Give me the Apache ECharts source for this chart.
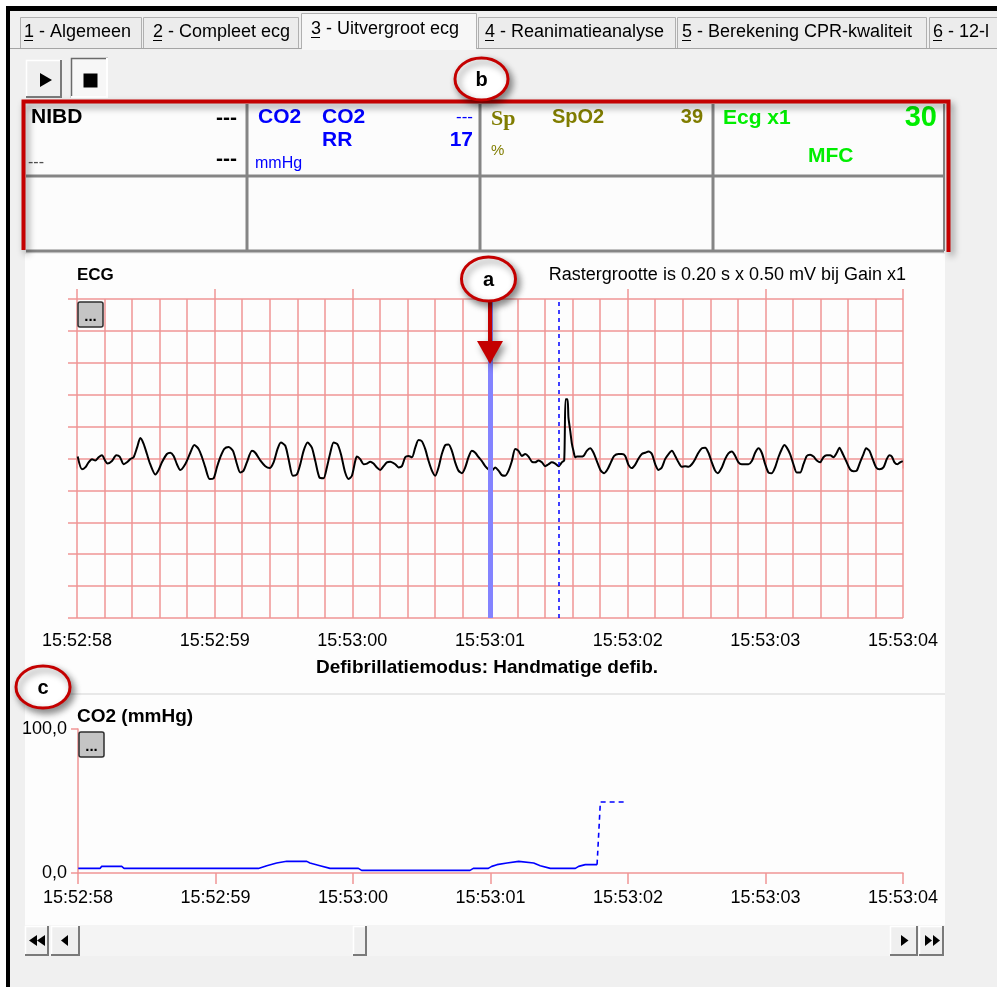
<!DOCTYPE html>
<html><head><meta charset="utf-8">
<script src="https://cdn.jsdelivr.net/npm/echarts@6/dist/echarts.min.js"></script>
<style>html,body{margin:0;padding:0;background:#fff;overflow:hidden}#chart{width:997px;height:987px}</style>
</head><body><div id="chart"></div>
<script>
// ---------------- DATA ----------------
const tickLabels = ['15:52:58','15:52:59','15:53:00','15:53:01','15:53:02','15:53:03','15:53:04'];
const co2AxisLabels = ['0,0','100,0'];
const tabLabels = ['1 - Algemeen','2 - Compleet ecg','3 - Uitvergroot ecg','4 - Reanimatieanalyse','5 - Berekening CPR-kwaliteit','6 - 12-l'];
// ECG: seconds after 15:52:58, value in mV (grid 0.20 s x 0.50 mV)
const ecgTimes = [0.005,0.036,0.060,0.084,0.109,0.133,0.157,0.181,0.206,0.222,0.254,0.285,0.310,0.339,0.363,0.387,0.411,0.436,0.460,0.484,0.508,0.532,0.569,0.593,0.617,0.653,0.678,0.702,0.726,0.750,0.786,0.823,0.852,0.883,0.908,0.932,0.963,0.992,1.016,1.041,1.070,1.101,1.133,1.162,1.186,1.210,1.234,1.271,1.295,1.331,1.368,1.399,1.428,1.457,1.481,1.513,1.537,1.568,1.597,1.622,1.646,1.675,1.706,1.731,1.762,1.791,1.815,1.840,1.864,1.893,1.917,1.948,1.973,1.997,2.021,2.033,2.057,2.082,2.106,2.130,2.154,2.178,2.203,2.227,2.251,2.275,2.312,2.336,2.360,2.384,2.408,2.433,2.457,2.481,2.505,2.529,2.554,2.578,2.602,2.626,2.650,2.675,2.699,2.723,2.747,2.771,2.796,2.820,2.844,2.868,2.893,2.917,2.941,2.965,2.989,3.014,3.038,3.062,3.086,3.110,3.135,3.159,3.183,3.207,3.231,3.256,3.280,3.304,3.328,3.352,3.377,3.401,3.425,3.449,3.474,3.498,3.522,3.539,3.549,3.563,3.570,3.583,3.595,3.606,3.619,3.631,3.655,3.679,3.703,3.728,3.752,3.776,3.805,3.829,3.854,3.878,3.902,3.933,3.958,3.982,4.006,4.030,4.054,4.079,4.103,4.127,4.151,4.176,4.200,4.224,4.248,4.272,4.297,4.321,4.345,4.369,4.393,4.418,4.442,4.466,4.490,4.514,4.539,4.563,4.587,4.611,4.635,4.655,4.684,4.708,4.732,4.757,4.781,4.805,4.829,4.853,4.877,4.902,4.926,4.950,4.974,4.999,5.023,5.047,5.071,5.095,5.120,5.139,5.156,5.180,5.204,5.228,5.253,5.277,5.301,5.325,5.350,5.374,5.398,5.422,5.446,5.471,5.495,5.519,5.538,5.563,5.587,5.616,5.640,5.664,5.688,5.713,5.732,5.756,5.780,5.805,5.829,5.858,5.882,5.902,5.919,5.938,5.960,5.979,5.998];
const ecgValues = [0.03,-0.17,-0.14,-0.06,-0.01,-0.03,0.02,0.05,-0.04,-0.08,-0.04,0.05,0.03,-0.09,-0.06,-0.01,0.02,0.17,0.32,0.23,0.07,-0.09,-0.25,-0.18,-0.06,0.07,0.09,0.04,-0.09,-0.18,-0.09,0.09,0.21,0.15,0.02,-0.14,-0.32,-0.31,-0.14,0.02,0.15,0.18,0.12,-0.09,-0.22,-0.19,-0.06,0.12,0.09,-0.03,-0.12,-0.15,-0.06,0.15,0.25,0.20,-0.01,-0.27,-0.25,-0.09,0.12,0.25,0.17,-0.04,-0.30,-0.31,-0.14,0.09,0.25,0.22,0.07,-0.22,-0.32,-0.27,-0.04,0.03,-0.01,-0.09,-0.08,-0.05,-0.08,-0.14,-0.18,-0.12,-0.06,-0.05,-0.09,-0.14,-0.12,0.02,0.04,0.02,0.17,0.29,0.27,0.15,-0.04,-0.19,-0.27,-0.14,0.07,0.21,0.22,0.12,-0.06,-0.19,-0.23,-0.14,0.02,0.12,0.09,0.02,-0.04,-0.12,-0.17,-0.19,-0.14,-0.19,-0.26,-0.27,-0.19,-0.04,0.15,0.12,0.04,0.07,0.03,-0.05,-0.06,-0.03,-0.06,-0.12,-0.09,-0.06,-0.08,-0.12,-0.06,-0.03,0.93,0.93,0.64,0.43,0.23,0.12,0.02,0.03,0.03,0.04,0.12,0.16,0.09,-0.04,-0.19,-0.23,-0.17,-0.06,0.04,0.07,0.07,0.04,-0.10,-0.15,-0.10,0.00,0.07,0.09,0.11,0.07,-0.09,-0.18,-0.14,-0.01,0.07,0.12,0.04,-0.06,-0.13,-0.12,-0.13,-0.09,-0.01,0.09,0.16,0.17,0.09,-0.06,-0.19,-0.23,-0.14,-0.01,0.08,0.11,0.04,-0.06,-0.09,-0.09,-0.09,-0.04,0.09,0.16,0.09,-0.09,-0.22,-0.23,-0.14,0.02,0.15,0.21,0.17,0.07,-0.09,-0.22,-0.22,-0.09,0.04,0.06,0.03,-0.03,-0.06,0.02,0.05,0.05,0.02,0.09,0.17,0.07,-0.04,-0.17,-0.20,-0.19,-0.06,0.07,0.16,0.12,-0.01,-0.14,-0.17,-0.14,-0.01,0.05,0.03,-0.06,-0.09,-0.06,-0.04];
// CO2 (mmHg): seconds after 15:52:58
const co2Times  = [0.002,0.160,0.172,0.318,0.335,1.312,1.373,1.445,1.518,1.664,1.687,1.760,1.833,2.039,2.063,2.851,2.875,2.984,3.009,3.047,3.120,3.205,3.314,3.362,3.435,3.617,3.641,3.689,3.775];
const co2Values = [3.2,3.2,4.6,4.6,3.2,3.2,5.1,6.9,8.1,8.1,6.9,5.1,3.2,3.2,1.8,1.8,3.2,3.2,4.6,5.8,6.9,8.1,6.9,5.1,3.2,3.2,4.6,5.8,5.8];
const co2PendingTimes  = [3.775,3.799,3.969];
const co2PendingValues = [5.8,49.3,49.3];
const cursorTime = 3.0;   // 15:53:01
const markerTime = 3.5;   // 15:53:01.5

// ---------------- STYLE ----------------
const FONT = '"Liberation Sans", Arial, sans-serif';
const RED = '#ef9595';
const G = [];
function rect(x,y,w,h,st,z,r){G.push({type:'rect',silent:true,z:z==null?1:z,shape:{x,y,width:w,height:h,r:r||0},style:Object.assign({fill:'none'},st)});}
function ln(x1,y1,x2,y2,stroke,lw,z,extra){G.push({type:'line',silent:true,z:z==null?2:z,shape:{x1,y1,x2,y2},style:Object.assign({stroke,lineWidth:lw||1},extra||{})});}
function poly(points,st,z,closed){G.push({type:closed?'polygon':'polyline',silent:true,z:z==null?2:z,shape:{points},style:st});}
function T(x,y,s,o){o=o||{};const al=o.align||'left';G.push({type:'text',silent:true,z:o.z==null?10:o.z,x,y,style:{text:s,fill:o.color||'#000',font:(o.bold?'bold ':'')+(o.size||18)+'px '+(o.family||FONT),textAlign:al,textVerticalAlign:'middle',align:al,verticalAlign:'middle'}});}
function bevel(x,y,w,h,pressed,z){
  rect(x,y,w,h,{fill:pressed?'#f7f7f7':'#efefef'},z);
  const lt=pressed?'#6a6a6a':'#ffffff', rb=pressed?'#ffffff':'#7a7a7a';
  poly([[x+0.5,y+h],[x+0.5,y+0.5],[x+w,y+0.5]],{stroke:lt,lineWidth:1.5,fill:'none'},z);
  poly([[x+w-1,y],[x+w-1,y+h-1],[x,y+h-1]],{stroke:rb,lineWidth:2,fill:'none'},z);
}

// window frame
rect(0,0,997,6,{fill:'#ffffff'},-20);
rect(0,0,6,987,{fill:'#ffffff'},-20);
rect(6,6,991,5,{fill:'#000000'},-19);
rect(6,6,4,981,{fill:'#000000'},-19);

// tabs
const tabs=[[20,142],[143,299],[301,477],[478,676],[677,927],[929,1000]];
const tabTextX=[24,153,311,485,682,933];
ln(10,48.5,301,48.5,'#a4a4a4',1,1);
ln(477,48.5,997,48.5,'#a4a4a4',1,1);
tabs.forEach((t,i)=>{
  const active=i===2;
  const y=active?13:17, h=active?36:31;
  rect(t[0],y,t[1]-t[0],h,{fill:active?'#f7f7f7':'#ececec'},1);
  poly([[t[0]+0.5,y+h],[t[0]+0.5,y+0.5],[t[1]-0.5,y+0.5],[t[1]-0.5,y+h]],{stroke:'#b0b0b0',lineWidth:1,fill:'none'},2);
  const cy=active?29:32;
  T(tabTextX[i],cy,tabLabels[i],{size:18});
  ln(tabTextX[i],cy+8.5,tabTextX[i]+9,cy+8.5,'#000',1,11);
});
rect(302,47,174,3,{fill:'#f7f7f7'},3);

// play / stop buttons
bevel(26,60,36,38,false,2);
poly([[40,73],[40,87],[52,80]],{fill:'#000'},4,true);
bevel(71,58,37,40,true,2);
rect(83.5,73.5,14,14,{fill:'#000'},4);

// vital-sign panel
rect(26,104,918,147,{fill:'#fcfcfc'},1);
const PG='#858585';
[247,480,713].forEach(x=>ln(x,104,x,251,PG,3,3));
ln(26,176,944,176,PG,3,3);
ln(26,251,944,251,PG,3,3);
ln(944,104,944,251,PG,2,3);
T(31,117,'NIBD',{bold:true,size:21});
T(237,118,'---',{bold:true,size:21,align:'right'});
T(237,159,'---',{bold:true,size:21,align:'right'});
T(28,163,'---',{size:16,color:'#505050'});
const BL='#0000ff';
T(258,117,'CO2',{bold:true,size:21,color:BL});
T(322,117,'CO2',{bold:true,size:21,color:BL});
T(473,117,'---',{size:17,color:BL,align:'right'});
T(322,140,'RR',{bold:true,size:21,color:BL});
T(473,140,'17',{bold:true,size:21,color:BL,align:'right'});
T(255,164,'mmHg',{size:16,color:BL});
const OL='#807d00';
T(491,119,'Sp',{bold:true,size:22,color:OL,family:'"Liberation Serif", serif'});
T(552,117,'SpO2',{bold:true,size:20,color:OL});
T(703,117,'39',{bold:true,size:20,color:OL,align:'right'});
T(491,151,'%',{size:15,color:OL});
const GR='#00ee00';
T(723,118,'Ecg x1',{bold:true,size:21,color:GR});
T(937,118,'30',{bold:true,size:29,color:GR,align:'right'});
T(808,156,'MFC',{bold:true,size:21,color:GR});

// main white area
rect(25,254,920,671,{fill:'#fdfdfd'},-10);
ln(25,694,945,694,'#e8e8e8',2,-9);

// ECG header texts
T(77,275,'ECG',{bold:true,size:17});
T(906,275,'Rastergrootte is 0.20 s x 0.50 mV bij Gain x1',{size:18,align:'right'});
T(487,668,'Defibrillatiemodus: Handmatige defib.',{bold:true,size:19,align:'center'});
T(77,717,'CO2 (mmHg)',{bold:true,size:19});
// "..." buttons
[[78,302],[79,732]].forEach(p=>{
  rect(p[0],p[1],25,25,{fill:'#c4c4c4',stroke:'#2e2e2e',lineWidth:1.5},20,2);
  T(p[0]+12.5,p[1]+15,'...',{bold:true,size:15,align:'center',z:21});
});

// scrollbar
rect(25,925,920,31,{fill:'#f4f4f4'},1);
bevel(25,926,24,30,false,2);
bevel(51,926,29,30,false,2);
bevel(353,926,14,30,false,2);
bevel(890,926,28,30,false,2);
bevel(919,926,25,30,false,2);
poly([[29,940.5],[37,935],[37,946]],{fill:'#000'},4,true);
poly([[37,940.5],[45,935],[45,946]],{fill:'#000'},4,true);
poly([[61,940.5],[68,935],[68,946]],{fill:'#000'},4,true);
poly([[901,935],[901,946],[908.5,940.5]],{fill:'#000'},4,true);
poly([[925,935],[925,946],[932,940.5]],{fill:'#000'},4,true);
poly([[933,935],[933,946],[940,940.5]],{fill:'#000'},4,true);

// annotation callouts
const AR='#c40000';
const SH={shadowBlur:7,shadowColor:'rgba(0,0,0,0.45)',shadowOffsetX:3,shadowOffsetY:4};
poly([[23.5,250],[23.5,101.5],[948.5,101.5],[948.5,252]],Object.assign({stroke:AR,lineWidth:4,fill:'none'},SH),60);
function callout(cx,cy,rx,ry,letter){
  G.push({type:'ellipse',silent:true,z:70,shape:{cx,cy,rx,ry},style:Object.assign({fill:'#ffffff',stroke:AR,lineWidth:3},SH)});
  T(cx,cy+1,letter,{bold:true,size:20,align:'center',z:71});
}
ln(490,300,490,343,AR,4,65,SH);
poly([[477,341],[503,341],[490,364]],Object.assign({fill:AR},SH),65,true);
callout(481.5,79,26.5,21,'b');
callout(488.5,279,27,22,'a');
callout(43,687,27,21,'c');

// ---------------- CHART ----------------
const ecgData = ecgTimes.map((t,i)=>[t,ecgValues[i]]);
const co2Data = co2Times.map((t,i)=>[t,co2Values[i]]);
const co2PendingData = co2PendingTimes.map((t,i)=>[t,co2PendingValues[i]]);
const labelStyle = {color:'#000',fontSize:18,fontFamily:FONT};
const chart = echarts.init(document.getElementById('chart'),null,{renderer:'canvas'});
chart.setOption({
  animation:false,
  backgroundColor:'#f0f0f0',
  grid:[
    {left:77,top:299,width:826,height:319,outerBoundsMode:'none'},
    {left:78,top:729,width:825,height:144,outerBoundsMode:'none'}
  ],
  xAxis:[
    {gridIndex:0,type:'value',min:0,max:6,interval:1,position:'bottom',
     axisLine:{show:false},
     axisTick:{show:true,length:10,lineStyle:{color:RED,width:1.5}},
     axisLabel:Object.assign({show:true,margin:14,showMinLabel:true,showMaxLabel:true,formatter:v=>tickLabels[Math.round(v)]||''},labelStyle),
     splitLine:{show:true,lineStyle:{color:RED,width:1.5}},
     minorTick:{show:false,splitNumber:5},
     minorSplitLine:{show:true,lineStyle:{color:RED,width:1.5}}},
    {gridIndex:0,type:'value',min:0,max:6,interval:1,position:'top',
     axisLine:{show:false},axisTick:{show:true,length:10,lineStyle:{color:RED,width:1.5}},
     axisLabel:{show:false},splitLine:{show:false}},
    {gridIndex:1,type:'value',min:0,max:6,interval:1,position:'bottom',
     axisLine:{show:true,lineStyle:{color:RED,width:1.5}},
     axisTick:{show:true,length:11,lineStyle:{color:RED,width:1.5}},
     axisLabel:Object.assign({show:true,margin:16,showMinLabel:true,showMaxLabel:true,formatter:v=>tickLabels[Math.round(v)]||''},labelStyle),
     splitLine:{show:false}}
  ],
  yAxis:[
    {gridIndex:0,type:'value',min:-2.5,max:2.5,interval:0.5,
     axisLine:{show:false},axisTick:{show:true,length:9,lineStyle:{color:RED,width:1.5}},
     axisLabel:{show:false},splitLine:{show:true,lineStyle:{color:RED,width:1.5}}},
    {gridIndex:1,type:'value',min:0,max:100,interval:100,
     axisLine:{show:true,lineStyle:{color:RED,width:1.5}},
     axisTick:{show:true,length:7,lineStyle:{color:RED,width:1.5}},
     axisLabel:Object.assign({show:true,margin:11,showMinLabel:true,showMaxLabel:true,formatter:v=>co2AxisLabels[Math.round(v/100)]},labelStyle),
     splitLine:{show:false}}
  ],
  series:[
    {type:'line',name:'ECG',xAxisIndex:0,yAxisIndex:0,data:ecgData,symbol:'none',showSymbol:false,z:3,
     smooth:0.25,lineStyle:{color:'#000',width:2},silent:true},
    {type:'line',name:'cursor',xAxisIndex:0,yAxisIndex:0,data:[],z:6,silent:true,
     markLine:{silent:true,symbol:['none','none'],label:{show:false},animation:false,
       data:[
         {xAxis:cursorTime,lineStyle:{color:'#8383ff',width:5,type:'solid'}},
         {xAxis:markerTime,lineStyle:{color:'#0000ff',width:1.5,type:[4,4]}}
       ]}},
    {type:'line',name:'CO2',xAxisIndex:2,yAxisIndex:1,data:co2Data,symbol:'none',showSymbol:false,
     lineStyle:{color:'#0000ff',width:1.6},silent:true},
    {type:'line',name:'CO2 pending',xAxisIndex:2,yAxisIndex:1,data:co2PendingData,symbol:'none',showSymbol:false,
     lineStyle:{color:'#0000ff',width:1.6,type:[5,4]},silent:true}
  ],
  graphic:{elements:G}
});
</script></body></html>
